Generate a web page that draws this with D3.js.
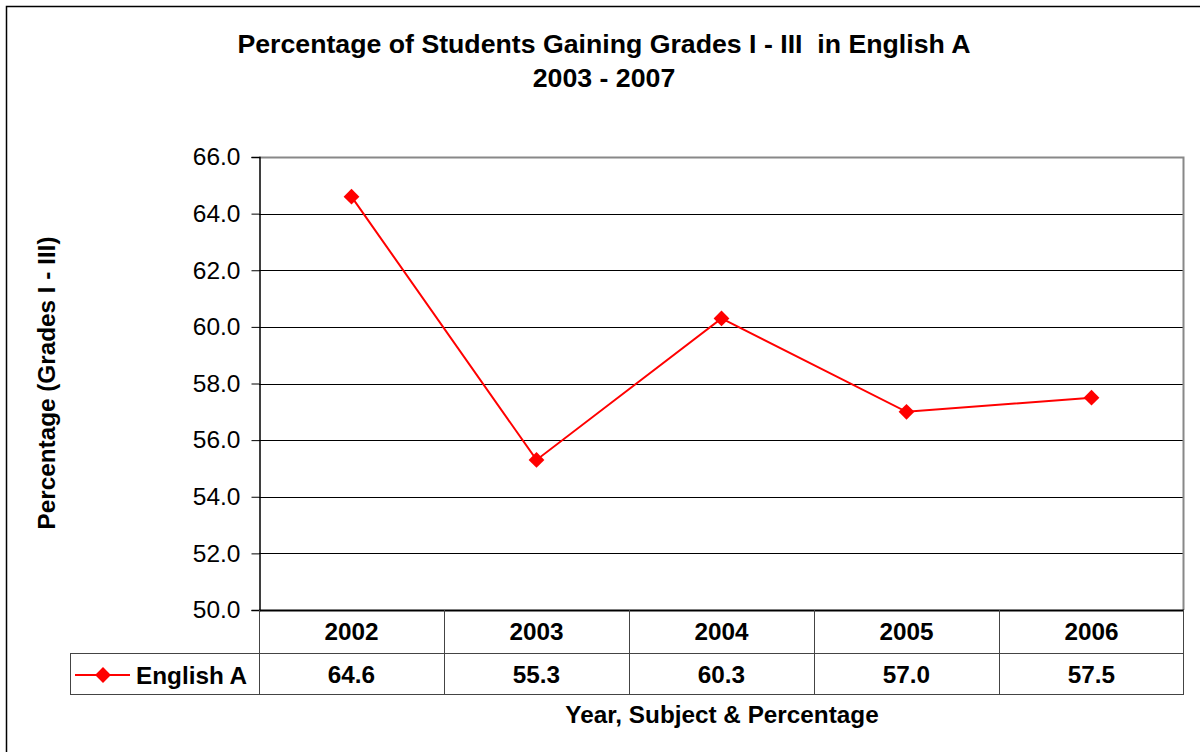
<!DOCTYPE html>
<html>
<head>
<meta charset="utf-8">
<script src="https://cdn.jsdelivr.net/npm/d3@7"></script>
<style>
  body { margin: 0; background: #fff; }
  text { font-family: Arial, "Liberation Sans", sans-serif; fill: #000; }
</style>
</head>
<body>
<script>
//chart data
var years = ["2002", "2003", "2004", "2005", "2006"];
var englishA = [64.6, 55.3, 60.3, 57.0, 57.5];
var seriesName = "English A";
var yTicks = [50, 52, 54, 56, 58, 60, 62, 64, 66];

drawChart();

function drawChart(){
    var width = 1200,
        height = 752;

    //plot area
    var left = 259, right = 1184, plotTop = 157, plotBottom = 610;
    var rowH1 = 43, rowH2 = 41, legendLeft = 70;

    var svg = d3.select("body")
        .append("svg")
        .attr("width", width)
        .attr("height", height);

    //outer chart border
    svg.append("rect")
        .attr("x", 6.5).attr("y", 6.5)
        .attr("width", 1300).attr("height", 900)
        .attr("fill", "none")
        .attr("stroke", "#000")
        .attr("stroke-width", 1.5);

    //title
    svg.append("text")
        .attr("x", 604).attr("y", 53)
        .attr("text-anchor", "middle")
        .attr("font-size", 26.7).attr("font-weight", "bold")
        .attr("xml:space", "preserve")
        .text("Percentage of Students Gaining Grades I - III  in English A");
    svg.append("text")
        .attr("x", 604).attr("y", 87)
        .attr("text-anchor", "middle")
        .attr("font-size", 26.7).attr("font-weight", "bold")
        .text("2003 - 2007");

    //scales
    var x = d3.scaleBand()
        .domain(years)
        .range([left, right]);

    var y = d3.scaleLinear()
        .domain([50, 66])
        .range([plotBottom, plotTop]);

    //gridlines
    svg.selectAll(".grid")
        .data(yTicks.slice(1, -1))
        .enter()
        .append("line")
        .attr("class", "grid")
        .attr("x1", left).attr("x2", right)
        .attr("y1", function(d){ return Math.round(y(d)) + 0.5; })
        .attr("y2", function(d){ return Math.round(y(d)) + 0.5; })
        .attr("stroke", "#000");

    //plot border top and right (grey)
    svg.append("path")
        .attr("d", "M" + left + "," + (plotTop + 0.5) + "H" + (right - 0.5) + "V" + plotBottom)
        .attr("fill", "none")
        .attr("stroke", "#888")
        .attr("stroke-width", 2);

    //y axis
    var yAxis = d3.axisLeft(y)
        .tickValues(yTicks)
        .tickSize(8)
        .tickPadding(11)
        .tickFormat(d3.format(".1f"));

    var gy = svg.append("g")
        .attr("transform", "translate(" + (left + 0.5) + ",0)")
        .call(yAxis);
    gy.select(".domain").attr("stroke", "#000").attr("stroke-width", 1.5);
    gy.selectAll(".tick line").attr("stroke", "#000");
    gy.selectAll(".tick text")
        .attr("font-size", 24.5)
        .attr("font-family", "Arial, 'Liberation Sans', sans-serif")
        .attr("fill", "#000");

    //y axis title
    svg.append("text")
        .attr("transform", "translate(55,383) rotate(-90)")
        .attr("text-anchor", "middle")
        .attr("font-size", 24.3).attr("font-weight", "bold")
        .text("Percentage (Grades I - III)");

    //data table
    var table = svg.append("g").attr("class", "table");
    var r1 = plotBottom, r2 = plotBottom + rowH1, r3 = plotBottom + rowH1 + rowH2;

    //horizontal table lines
    table.append("line")
        .attr("x1", left).attr("x2", right)
        .attr("y1", r1 + 0.5).attr("y2", r1 + 0.5)
        .attr("stroke", "#000").attr("stroke-width", 2);
    [r2, r3].forEach(function(ry){
        table.append("line")
            .attr("x1", legendLeft).attr("x2", right)
            .attr("y1", ry + 0.5).attr("y2", ry + 0.5)
            .attr("stroke", "#444");
    });
    //vertical table lines
    table.append("line")
        .attr("x1", legendLeft + 0.5).attr("x2", legendLeft + 0.5)
        .attr("y1", r2).attr("y2", r3)
        .attr("stroke", "#444");
    years.forEach(function(yr){
        var cx = Math.round(x(yr)) + 0.5;
        table.append("line")
            .attr("x1", cx).attr("x2", cx)
            .attr("y1", r1).attr("y2", r3)
            .attr("stroke", "#444");
    });
    table.append("line")
        .attr("x1", right - 0.5).attr("x2", right - 0.5)
        .attr("y1", r1).attr("y2", r3)
        .attr("stroke", "#444");

    //year labels
    table.selectAll(".yr")
        .data(years)
        .enter()
        .append("text")
        .attr("class", "yr")
        .attr("x", function(d){ return x(d) + x.bandwidth() / 2; })
        .attr("y", r1 + 30)
        .attr("text-anchor", "middle")
        .attr("font-size", 24.3).attr("font-weight", "bold")
        .text(function(d){ return d; });

    //value labels
    table.selectAll(".val")
        .data(englishA)
        .enter()
        .append("text")
        .attr("class", "val")
        .attr("x", function(d, i){ return x(years[i]) + x.bandwidth() / 2; })
        .attr("y", r2 + 30)
        .attr("text-anchor", "middle")
        .attr("font-size", 24.3).attr("font-weight", "bold")
        .text(function(d){ return d3.format(".1f")(d); });

    //legend key in table (diamond = rotated square)
    var diamond = d3.symbol().type(d3.symbolSquare).size(125);
    table.append("line")
        .attr("x1", 75).attr("x2", 130)
        .attr("y1", r2 + 22).attr("y2", r2 + 22)
        .attr("stroke", "#ff0000").attr("stroke-width", 2);
    table.append("path")
        .attr("d", diamond)
        .attr("transform", "translate(103," + (r2 + 22) + ") rotate(45)")
        .attr("fill", "#ff0000");
    table.append("text")
        .attr("x", 136).attr("y", r2 + 31)
        .attr("font-size", 24.3).attr("font-weight", "bold")
        .text(seriesName);

    //x axis title
    svg.append("text")
        .attr("x", 722).attr("y", 723)
        .attr("text-anchor", "middle")
        .attr("font-size", 24.3).attr("font-weight", "bold")
        .text("Year, Subject & Percentage");

    //series line
    var line = d3.line()
        .x(function(d, i){ return x(years[i]) + x.bandwidth() / 2; })
        .y(function(d){ return y(d); });

    svg.append("path")
        .datum(englishA)
        .attr("d", line)
        .attr("fill", "none")
        .attr("stroke", "#ff0000")
        .attr("stroke-width", 2);

    svg.selectAll(".marker")
        .data(englishA)
        .enter()
        .append("path")
        .attr("class", "marker")
        .attr("d", diamond)
        .attr("transform", function(d, i){
            return "translate(" + (x(years[i]) + x.bandwidth() / 2) + "," + y(d) + ") rotate(45)";
        })
        .attr("fill", "#ff0000");
}
</script>
</body>
</html>
